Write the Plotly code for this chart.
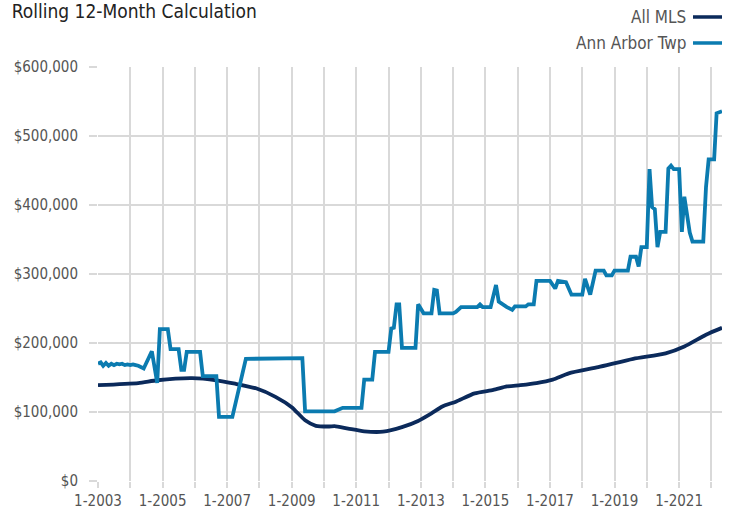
import plotly.graph_objects as go

# ---- data ----
mls_dates = ["2003-01", "2004-04", "2004-11", "2005-12", "2006-09", "2007-04", "2007-12",
             "2008-07", "2009-01", "2009-06", "2009-10", "2010-03", "2010-05", "2010-10",
             "2011-04", "2011-11", "2012-06", "2012-12", "2013-05", "2013-09", "2014-02",
             "2014-09", "2015-04", "2015-09", "2016-02", "2016-08", "2017-02", "2017-08",
             "2018-07", "2019-08", "2020-08", "2021-03", "2021-11", "2022-05"]
mls_values = [139000, 142000, 146000, 149000, 146000, 141000, 134000,
              122000, 107000, 88000, 80000, 79000, 79500, 76000,
              72000, 71500, 78000, 87000, 98000, 108000, 115000,
              127000, 132000, 137000, 139000, 142000, 147000, 156000,
              165000, 177000, 185000, 195000, 212000, 222000]

aat_dates = ["2003-01", "2003-02", "2003-03", "2003-04", "2003-05", "2003-06", "2003-07",
             "2003-08", "2003-09", "2003-10", "2003-11", "2003-12", "2004-01", "2004-02",
             "2004-03", "2004-04", "2004-06", "2004-09", "2004-11", "2004-12", "2005-03",
             "2005-04", "2005-07", "2005-08", "2005-09", "2005-10", "2006-03", "2006-04",
             "2006-09", "2006-10", "2007-03", "2007-08", "2009-05", "2009-06", "2010-05",
             "2010-08", "2011-03", "2011-04", "2011-07", "2011-08", "2012-01", "2012-02",
             "2012-03", "2012-04", "2012-05", "2012-06", "2012-11", "2012-12", "2013-02",
             "2013-05", "2013-06", "2013-07", "2013-08", "2014-01", "2014-02", "2014-04",
             "2014-10", "2014-11", "2014-12", "2015-03", "2015-05", "2015-06", "2015-09",
             "2015-11", "2015-12", "2016-04", "2016-05", "2016-07", "2016-08", "2017-01",
             "2017-03", "2017-04", "2017-07", "2017-09", "2018-01", "2018-02", "2018-04",
             "2018-06", "2018-09", "2018-10", "2018-12", "2019-01", "2019-06", "2019-07",
             "2019-09", "2019-10", "2019-11", "2020-01", "2020-02", "2020-03", "2020-04",
             "2020-05", "2020-06", "2020-08", "2020-09", "2020-10", "2020-11", "2021-01",
             "2021-02", "2021-03", "2021-05", "2021-06", "2021-10", "2021-11", "2021-12",
             "2022-02", "2022-03", "2022-05"]
aat_values = [170000, 172000, 167000, 171000, 167000, 170000, 168000,
              170000, 169000, 170000, 168000, 169000, 168000, 169000,
              168000, 167000, 163000, 188000, 142000, 220000, 220000,
              191000, 191000, 161000, 161000, 187000, 187000, 152000,
              152000, 93000, 93000, 177000, 178000, 101000, 101000,
              106000, 106000, 147000, 147000, 187000, 187000, 221000,
              222000, 256000, 256000, 193000, 193000, 256000, 243000,
              243000, 277000, 276000, 243000, 243000, 245000, 252000,
              252000, 256000, 252000, 252000, 284000, 260000, 252000,
              248000, 253000, 253000, 256000, 256000, 290000, 290000,
              279000, 290000, 288000, 270000, 270000, 293000, 270000,
              305000, 305000, 298000, 298000, 305000, 305000, 325000,
              325000, 311000, 339000, 339000, 452000, 397000, 394000,
              339000, 361000, 361000, 453000, 457000, 452000, 452000,
              361000, 412000, 360000, 347000, 347000, 426000, 466000,
              466000, 533000, 536000]

year_ticks = list(range(2003, 2023))
tick_vals = [f"{y}-01-01" for y in year_ticks]
tick_text = [f"1-{y}" if (y - 2003) % 2 == 0 else "" for y in year_ticks]
y_ticks = [0, 100000, 200000, 300000, 400000, 500000, 600000]
y_text = ["$0", "$100,000", "$200,000", "$300,000", "$400,000", "$500,000", "$600,000"]

series_names = ["All MLS", "Ann Arbor Twp"]
colors = ["#0b2a5b", "#0b7bb0"]

FONT = "DejaVu Sans Condensed, Liberation Sans Narrow, sans-serif"

fig = go.Figure()
fig.add_trace(go.Scatter(x=mls_dates, y=mls_values, mode="lines", name=series_names[0],
                         line=dict(color=colors[0], width=3.8, shape="spline", smoothing=0.6),
                         showlegend=False))
fig.add_trace(go.Scatter(x=aat_dates, y=aat_values, mode="lines", name=series_names[1],
                         line=dict(color=colors[1], width=3.8),
                         showlegend=False))

# legend (text on left, line sample on right)
leg_y = [1.1208, 1.058]
for name, col, yy in zip(series_names, colors, leg_y):
    fig.add_annotation(xref="paper", yref="paper", x=0.9455, y=yy, text=name,
                       showarrow=False, xanchor="right", yanchor="middle",
                       font=dict(family=FONT, size=17, color="#555555"))
    fig.add_shape(type="line", xref="paper", yref="paper", x0=0.9535, x1=1.0,
                  y0=yy, y1=yy, line=dict(color=col, width=3.5))

fig.update_layout(
    width=732, height=515,
    margin=dict(l=98, r=10, t=67, b=34, autoexpand=False),
    paper_bgcolor="white", plot_bgcolor="white",
    font=dict(family=FONT, size=15, color="#555555"),
    title=dict(text="Rolling 12-Month Calculation", xref="container", yref="container",
               x=0.016, xanchor="left", y=0.977, yanchor="middle",
               font=dict(family=FONT, size=19, color="#222222")),
    hovermode=False,
)
fig.update_xaxes(
    type="date", range=["2003-01-01", "2022-05-01"], automargin=False,
    tickvals=tick_vals, ticktext=tick_text,
    showgrid=True, gridcolor="#d9d9d9", gridwidth=1.5,
    ticks="outside", ticklen=6, tickcolor="#d9d9d9", tickwidth=1.5,
    showline=False, zeroline=False,
    tickfont=dict(family=FONT, size=15, color="#555555"),
)
fig.update_yaxes(
    range=[0, 600000], tickvals=y_ticks, ticktext=y_text, automargin=False,
    showgrid=True, gridcolor="#d9d9d9", gridwidth=1.5,
    ticks="outside", ticklen=8, tickcolor="#d9d9d9", tickwidth=1.5,
    showline=False, zeroline=False, ticklabelstandoff=8,
    tickfont=dict(family=FONT, size=15, color="#555555"),
)

fig.write_html("out.html", config={"displayModeBar": False},
               post_script="document.body.style.margin='0px';")
